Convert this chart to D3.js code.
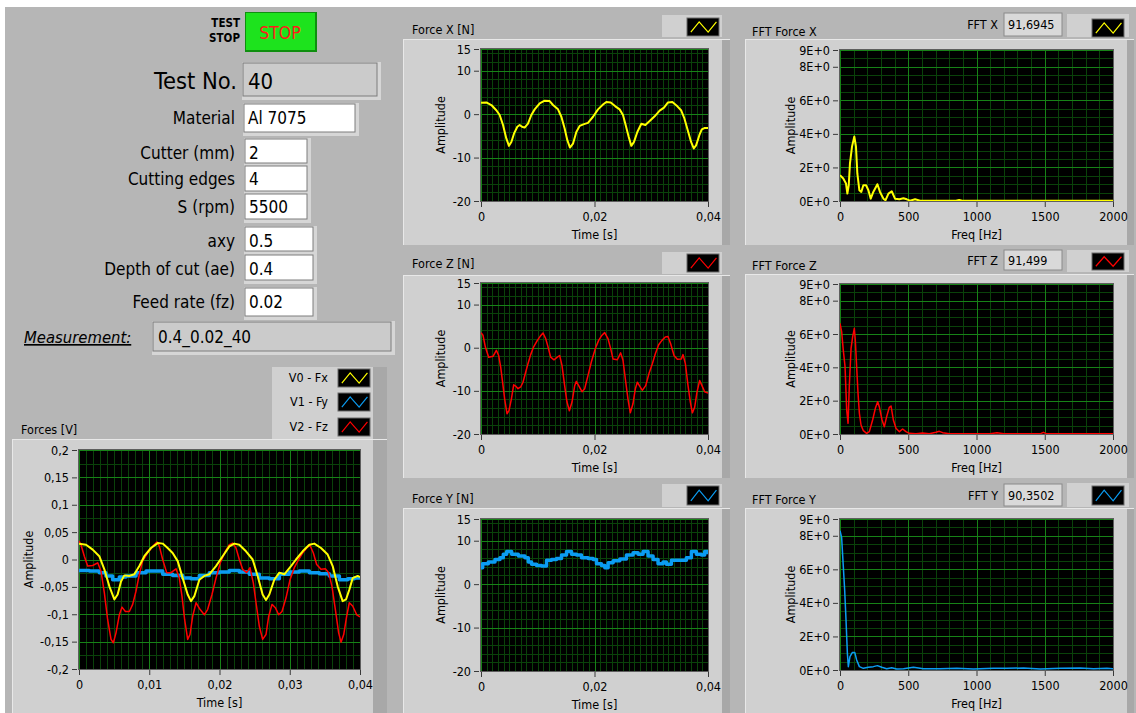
<!DOCTYPE html>
<html>
<head>
<meta charset="utf-8">
<script src="https://cdn.jsdelivr.net/npm/d3@7"></script>
<style>
  body { margin: 0; background: #fff; }
  svg { display: block; font-family: "DejaVu Sans Condensed", "DejaVu Sans", sans-serif; font-stretch: condensed; }
</style>
</head>
<body>
<svg id="panel" width="1136" height="713"></svg>
<script>
// ---------- Measured signals (time in s, force in N) ----------
const forceX = [[0,2.6],[0.00094,2.7],[0.00182,2.1],[0.0027,0.9],[0.00329,-0.2],[0.00388,-2.5],[0.00446,-5.6],[0.00493,-7.3],[0.00535,-6.4],[0.00581,-4.5],[0.0064,-2.9],[0.00681,-2.5],[0.00722,-2.9],[0.00769,-3.1],[0.00828,-2.2],[0.00887,-0.2],[0.00946,1.1],[0.01034,2.5],[0.01122,3.1],[0.0121,3.0],[0.01269,2.1],[0.01357,1.1],[0.01416,-0.6],[0.01474,-3.3],[0.01521,-6.0],[0.01568,-7.7],[0.01621,-6.8],[0.0168,-4.1],[0.01739,-2.7],[0.01815,-2.3],[0.01885,-2.0],[0.01974,-0.6],[0.02062,1.1],[0.0215,2.2],[0.02208,2.8],[0.02285,2.7],[0.02367,1.8],[0.02443,1.1],[0.02502,-0.2],[0.02549,-2.5],[0.02602,-5.2],[0.02649,-7.3],[0.02696,-6.4],[0.02755,-4.1],[0.02825,-2.2],[0.02896,-2.5],[0.02972,-1.6],[0.0306,-0.5],[0.03148,0.8],[0.03225,1.5],[0.03295,2.7],[0.03372,2.8],[0.0346,1.8],[0.03525,0.9],[0.03584,-1.0],[0.03643,-3.7],[0.03702,-6.4],[0.03749,-7.9],[0.0379,-7.2],[0.03849,-4.8],[0.0389,-3.5],[0.03937,-3.2],[0.04,-3.2]];

const forceZ = [[0,3.5],[0.00035,2.9],[0.00076,0.2],[0.00135,-2.2],[0.00212,-2.0],[0.0027,-0.6],[0.00311,-1.8],[0.00347,-4.5],[0.00388,-8.8],[0.00417,-11.9],[0.00458,-15.3],[0.00493,-14.6],[0.00535,-11.9],[0.00576,-8.6],[0.00611,-8.9],[0.00652,-9.5],[0.00699,-9.1],[0.0074,-8.0],[0.00787,-5.7],[0.00828,-3.7],[0.00875,-1.6],[0.00928,0.2],[0.00993,1.7],[0.01046,2.7],[0.01093,3.4],[0.0114,2.1],[0.01181,0.2],[0.01228,-2.2],[0.01286,-2.8],[0.01345,-2.2],[0.01386,-1.8],[0.01427,-4.1],[0.01474,-8.8],[0.01515,-12.6],[0.01557,-14.6],[0.01604,-12.6],[0.01651,-8.8],[0.0168,-7.8],[0.01721,-8.8],[0.0178,-10.2],[0.01827,-9.5],[0.01886,-6.4],[0.01944,-3.3],[0.02015,-0.2],[0.02073,1.7],[0.02132,2.9],[0.02179,3.5],[0.02238,2.1],[0.02285,-0.2],[0.02326,-2.6],[0.02402,-2.8],[0.02461,-1.2],[0.02502,-2.9],[0.02543,-7.2],[0.0259,-11.9],[0.02631,-15.1],[0.02678,-13.0],[0.0272,-9.5],[0.02755,-8.0],[0.02796,-8.9],[0.02843,-9.9],[0.02902,-8.8],[0.0296,-6.0],[0.03019,-3.7],[0.03072,-1.4],[0.03131,0.7],[0.03189,1.7],[0.03248,2.5],[0.03295,2.6],[0.03342,0.9],[0.03401,-1.8],[0.0346,-2.7],[0.0353,-2.6],[0.0356,-1.6],[0.03601,-3.7],[0.03648,-8.8],[0.03689,-12.6],[0.03724,-15.1],[0.03765,-13.8],[0.03806,-10.3],[0.03853,-7.6],[0.03894,-8.8],[0.03941,-10.2],[0.04,-10.5]];

const forceY = [[0,3.8],[0.00029,4.7],[0.00129,5.1],[0.00246,5.7],[0.00334,6.1],[0.00393,6.9],[0.00452,7.5],[0.0054,6.9],[0.00657,6.5],[0.00774,6.1],[0.00833,5.1],[0.00891,4.6],[0.00979,4.3],[0.01067,4.2],[0.01155,5.5],[0.01243,5.7],[0.01331,5.9],[0.01419,6.7],[0.01507,7.5],[0.01595,6.9],[0.01683,6.7],[0.01771,6.1],[0.01889,5.9],[0.01977,5.7],[0.02035,4.7],[0.02123,4.3],[0.02182,3.8],[0.0224,4.9],[0.02328,5.4],[0.02446,5.8],[0.02563,6.7],[0.0268,7.2],[0.02768,6.9],[0.02856,7.5],[0.02944,6.5],[0.03032,5.7],[0.0312,4.7],[0.03208,5.1],[0.03267,4.6],[0.03355,5.5],[0.03501,5.5],[0.03619,6.1],[0.03707,7.5],[0.03795,6.9],[0.03883,6.7],[0.03941,7.5],[0.04,6.9]];

// ---------- Raw channel voltages (time in s, V) ----------
const voltsV0 = [[0,0.0287],[0.001,0.027],[0.00195,0.018],[0.00289,0.006],[0.00361,-0.018],[0.00432,-0.049],[0.00503,-0.073],[0.0055,-0.064],[0.00598,-0.04],[0.00645,-0.029],[0.00717,-0.03],[0.00788,-0.027],[0.00859,-0.012],[0.0093,0.006],[0.01025,0.021],[0.0112,0.03],[0.01191,0.029],[0.01262,0.021],[0.01333,0.012],[0.01405,-0.003],[0.01476,-0.034],[0.01547,-0.064],[0.01594,-0.076],[0.01642,-0.067],[0.01713,-0.037],[0.01784,-0.03],[0.01855,-0.027],[0.0195,-0.012],[0.02045,0.006],[0.0214,0.024],[0.02211,0.029],[0.02282,0.027],[0.02377,0.015],[0.02472,0],[0.02543,-0.03],[0.02614,-0.064],[0.02662,-0.074],[0.02709,-0.064],[0.0278,-0.037],[0.02852,-0.024],[0.02923,-0.027],[0.03018,-0.012],[0.03089,0],[0.03184,0.015],[0.03279,0.027],[0.0335,0.029],[0.03445,0.021],[0.0354,0.009],[0.03611,-0.012],[0.03682,-0.049],[0.03753,-0.076],[0.03801,-0.073],[0.03848,-0.055],[0.03896,-0.034],[0.03967,-0.03],[0.04,-0.032]];

const voltsV1 = [[0,-0.02],[0.00147,-0.021],[0.00289,-0.024],[0.00384,-0.03],[0.00479,-0.037],[0.00574,-0.032],[0.00669,-0.03],[0.00811,-0.024],[0.00954,-0.021],[0.01096,-0.021],[0.01191,-0.027],[0.01333,-0.029],[0.01476,-0.034],[0.01594,-0.035],[0.01713,-0.029],[0.01855,-0.024],[0.01998,-0.023],[0.0214,-0.02],[0.02282,-0.023],[0.02425,-0.027],[0.02567,-0.034],[0.02709,-0.035],[0.02852,-0.027],[0.02994,-0.023],[0.03136,-0.021],[0.03279,-0.024],[0.03421,-0.026],[0.03563,-0.03],[0.03706,-0.037],[0.03825,-0.035],[0.03919,-0.034],[0.04,-0.035]];

const voltsV2 = [[0,0.034],[0.00028,0.027],[0.00076,0.006],[0.00123,-0.012],[0.00195,-0.011],[0.00266,-0.006],[0.00313,-0.021],[0.00361,-0.061],[0.00408,-0.11],[0.00456,-0.146],[0.00489,-0.152],[0.00527,-0.134],[0.00574,-0.101],[0.00612,-0.087],[0.0066,-0.095],[0.00717,-0.095],[0.00764,-0.082],[0.00811,-0.058],[0.00859,-0.027],[0.00906,-0.003],[0.00977,0.012],[0.01049,0.024],[0.0111,0.032],[0.01144,0.024],[0.01191,0],[0.01248,-0.024],[0.0131,-0.024],[0.01381,-0.017],[0.01428,-0.034],[0.01466,-0.067],[0.01504,-0.11],[0.01547,-0.146],[0.0158,-0.137],[0.01618,-0.104],[0.01666,-0.079],[0.01722,-0.091],[0.01784,-0.101],[0.01832,-0.091],[0.01893,-0.064],[0.0195,-0.034],[0.02012,-0.006],[0.02083,0.015],[0.0214,0.027],[0.02187,0.03],[0.02235,0.021],[0.02282,0],[0.0233,-0.018],[0.02387,-0.024],[0.02434,-0.015],[0.02482,-0.043],[0.0252,-0.079],[0.02567,-0.122],[0.02614,-0.146],[0.02662,-0.137],[0.027,-0.104],[0.02747,-0.082],[0.02795,-0.088],[0.02842,-0.101],[0.0289,-0.095],[0.02947,-0.07],[0.03004,-0.037],[0.03065,-0.015],[0.03127,0],[0.03184,0.012],[0.0324,0.021],[0.03288,0.026],[0.03336,0.012],[0.03383,-0.009],[0.03445,-0.018],[0.03507,-0.017],[0.03554,-0.024],[0.03601,-0.049],[0.03649,-0.091],[0.03696,-0.134],[0.0373,-0.151],[0.03768,-0.137],[0.0381,-0.104],[0.03848,-0.079],[0.03896,-0.085],[0.03953,-0.101],[0.04,-0.105]];

// ---------- Amplitude spectra (Hz, amplitude) ----------
const fftX = [[0,1.54],[24,1.34],[44,1.04],[54,0.44],[64,0.94],[73,2.24],[88,3.24],[105,3.84],[117,3.24],[127,1.64],[142,0.64],[156,0.54],[171,0.94],[191,0.94],[208,0.64],[225,0.14],[244,0.54],[274,1.0],[293,0.54],[318,0.14],[333,0.04],[355,0.44],[379,0.58],[403,0.14],[435,0.1],[465,0.16],[489,0.1],[513,0.02],[550,0.1],[587,0.02],[650,0.02],[850,0.02],[873,0.06],[895,0.02],[1200,0.02],[2000,0.02]];

const fftZ = [[0,6.64],[12,6.14],[24,5.04],[37,4.04],[49,1.44],[59,0.64],[68,2.84],[81,5.14],[93,5.84],[105,6.34],[112,5.64],[122,4.04],[132,2.44],[142,1.24],[154,0.54],[171,0.2],[195,0.04],[215,0.14],[239,0.84],[259,1.54],[276,1.94],[288,1.64],[308,0.84],[325,0.44],[342,1.04],[361,1.6],[374,1.68],[391,0.84],[410,0.34],[435,0.14],[459,0.3],[483,0.14],[508,0.04],[557,0.02],[605,0.06],[654,0.02],[703,0.1],[728,0.16],[752,0.08],[801,0.02],[1100,0.02],[1150,0.08],[1200,0.02],[1470,0.02],[1490,0.1],[1510,0.02],[2000,0.02]];

const fftY = [[0,8.3],[12,7.9],[24,6.2],[34,4.8],[44,3.0],[54,1.0],[61,0.2],[73,0.8],[90,1.04],[108,1.04],[122,0.6],[142,0.2],[171,0.1],[208,0.16],[244,0.2],[274,0.26],[306,0.16],[342,0.08],[379,0.14],[416,0.06],[465,0.08],[538,0.16],[611,0.08],[733,0.08],[856,0.1],[978,0.06],[1125,0.1],[1222,0.1],[1345,0.12],[1467,0.06],[1614,0.1],[1760,0.12],[1858,0.08],[1956,0.1],[2000,0.08]];

// ---------- Ticks ----------
const forceTimeTicks = [0, 0.02, 0.04];
const forceAmpTicks = [-20, -10, 0, 10, 15];
const voltTimeTicks = [0, 0.01, 0.02, 0.03, 0.04];
const voltAmpTicks = [-0.2, -0.15, -0.1, -0.05, 0, 0.05, 0.1, 0.15, 0.2];
const freqTicks = [0, 500, 1000, 1500, 2000];
const fftAmpTicks = [0, 2, 4, 6, 8, 9];

// ---------- Front panel parameters ----------
const paramLabels = ["Material", "Cutter (mm)", "Cutting edges", "S (rpm)", "axy", "Depth of cut (ae)", "Feed rate (fz)"];
const paramValues = ["Al 7075", "2", "4", "5500", "0.5", "0.4", "0.02"];
const testNo = "40";
const measurementName = "0.4_0.02_40";
const fftPeakLabels = ["FFT X", "FFT Z", "FFT Y"];
const fftPeakValues = ["91,6945", "91,499", "90,3502"];
const channelNames = ["V0 - Fx", "V1 - Fy", "V2 - Fz"];

const YELLOW = "#ffff00", BLUE = "#0b9cf2", RED = "#ff0000";
const BG = "#b6b6b6", FRAME = "#d0d0d0", STRIP = "#a8a8a8";
const GRID_MINOR = "#0a420a", GRID_MAJOR = "#178217";

const comma = d3.formatLocale({decimal: ",", thousands: ".", grouping: [3], currency: ["", ""], minus: "-"}).format("~g");
const expFmt = d => d + "E+0";
const intFmt = d3.format("d");

const svg = d3.select("#panel");
svg.append("rect").attr("width", 1136).attr("height", 713).attr("fill", "#fff");
svg.append("rect").attr("x", 5).attr("y", 7).attr("width", 1131).attr("height", 706).attr("fill", BG);

function bevelBox(g, x, y, w, h, fill) {
  g.append("rect").attr("x", x - 1).attr("y", y - 1).attr("width", w + 5).attr("height", h + 5).attr("fill", "#d6d6d6");
  g.append("rect").attr("x", x).attr("y", y).attr("width", w).attr("height", h).attr("fill", fill)
    .attr("stroke", "#7d7d7d").attr("stroke-width", 1);
}

function swatch(g, x, y, w, h, color) {
  g.append("rect").attr("x", x).attr("y", y).attr("width", w).attr("height", h).attr("fill", "#000")
    .attr("stroke", "#6a6a6a");
  const pts = [[0.12, 0.78], [0.38, 0.22], [0.66, 0.78], [0.92, 0.22]].map(p => [x + p[0] * w, y + p[1] * h]);
  g.append("path").attr("d", d3.line()(pts)).attr("fill", "none").attr("stroke", color).attr("stroke-width", 1.2);
}

function frame(g, x, y, w, h, strip) {
  g.append("rect").attr("x", x).attr("y", y).attr("width", w).attr("height", h).attr("fill", FRAME);
  g.append("rect").attr("x", x + w - strip).attr("y", y).attr("width", strip).attr("height", h).attr("fill", STRIP);
  g.append("line").attr("x1", x).attr("x2", x + w).attr("y1", y + 0.5).attr("y2", y + 0.5).attr("stroke", "#e8e8e8");
  g.append("line").attr("x1", x + 0.5).attr("x2", x + 0.5).attr("y1", y).attr("y2", y + h).attr("stroke", "#e8e8e8");
}

let clipId = 0;
function graph(o) {
  const g = svg.append("g");
  const [x0, y0, x1, y1] = o.plot;
  const x = d3.scaleLinear().domain(o.xDomain).range([x0, x1]);
  const y = d3.scaleLinear().domain(o.yDomain).range([y1, y0]);

  g.append("rect").attr("x", x0).attr("y", y0).attr("width", x1 - x0).attr("height", y1 - y0).attr("fill", "#000");

  const grid = g.append("g").attr("shape-rendering", "crispEdges");
  o.xMinor.forEach(v => grid.append("line").attr("x1", Math.round(x(v)) + 0.5).attr("x2", Math.round(x(v)) + 0.5)
    .attr("y1", y0).attr("y2", y1).attr("stroke", GRID_MINOR));
  o.yMinor.forEach(v => grid.append("line").attr("y1", Math.round(y(v)) + 0.5).attr("y2", Math.round(y(v)) + 0.5)
    .attr("x1", x0).attr("x2", x1).attr("stroke", GRID_MINOR));
  o.xTicks.forEach(v => grid.append("line").attr("x1", Math.round(x(v)) + 0.5).attr("x2", Math.round(x(v)) + 0.5)
    .attr("y1", y0).attr("y2", y1).attr("stroke", GRID_MAJOR));
  o.yTicks.forEach(v => grid.append("line").attr("y1", Math.round(y(v)) + 0.5).attr("y2", Math.round(y(v)) + 0.5)
    .attr("x1", x0).attr("x2", x1).attr("stroke", GRID_MAJOR));

  const cid = "clip" + (clipId++);
  g.append("clipPath").attr("id", cid).append("rect")
    .attr("x", x0).attr("y", y0 - 1).attr("width", x1 - x0).attr("height", y1 - y0 + 2);
  const plot = g.append("g").attr("clip-path", `url(#${cid})`);
  o.series.forEach(s => {
    const line = d3.line().x(d => x(d[0])).y(d => y(d[1])).curve(s.curve || d3.curveLinear);
    plot.append("path").attr("d", line(s.data)).attr("fill", "none").attr("stroke", s.color)
      .attr("stroke-width", s.width).attr("stroke-linejoin", "round");
  });

  g.append("rect").attr("x", x0 - 0.5).attr("y", y0 - 0.5).attr("width", x1 - x0 + 1).attr("height", y1 - y0 + 1)
    .attr("fill", "none").attr("stroke", "#5e5e5e");

  const ya = g.append("g").attr("transform", `translate(${x0 - 2},0)`)
    .call(d3.axisLeft(y).tickValues(o.yTicks).tickFormat(o.yFmt).tickSize(5).tickPadding(3));
  const xa = g.append("g").attr("transform", `translate(0,${y1 + 1})`)
    .call(d3.axisBottom(x).tickValues(o.xTicks).tickFormat(o.xFmt).tickSize(5).tickPadding(5));
  [ya, xa].forEach(a => {
    a.select(".domain").remove();
    a.selectAll(".tick line").attr("stroke", "#3a3a3a");
    a.selectAll(".tick text").attr("fill", "#000").style("font-size", "12.5px")
      .style("font-family", '"DejaVu Sans Condensed", "DejaVu Sans", sans-serif');
  });

  g.append("text").attr("x", (x0 + x1) / 2).attr("y", y1 + 38).attr("text-anchor", "middle")
    .attr("font-size", 12.5).text(o.xLabel);
  const cy = (y0 + y1) / 2, cx = x0 - o.ampOffset;
  g.append("text").attr("transform", `translate(${cx + 4.5},${cy}) rotate(-90)`).attr("text-anchor", "middle")
    .attr("font-size", 12.5).text("Amplitude");
  return g;
}

// ---------- Left control column ----------
const ctl = svg.append("g");
ctl.append("text").attr("x", 240).attr("y", 27).attr("text-anchor", "end").attr("font-size", 11.5)
  .attr("font-weight", "bold").text("TEST");
ctl.append("text").attr("x", 240).attr("y", 42).attr("text-anchor", "end").attr("font-size", 11.5)
  .attr("font-weight", "bold").text("STOP");
ctl.append("rect").attr("x", 245).attr("y", 12).attr("width", 72).attr("height", 40).attr("fill", "#0f8f0f");
ctl.append("rect").attr("x", 246).attr("y", 13).attr("width", 69).attr("height", 37).attr("fill", "#1de31d");
ctl.append("text").attr("x", 280).attr("y", 39).attr("text-anchor", "middle").attr("font-size", 17.5)
  .attr("fill", "#ff1a1a").text("STOP");

ctl.append("text").attr("x", 237).attr("y", 89).attr("text-anchor", "end").attr("font-size", 23.5).text("Test No.");
bevelBox(ctl, 243, 63, 134, 33, "#cbcbcb");
ctl.append("text").attr("x", 248).attr("y", 89).attr("font-size", 22).text(testNo);

const boxes = [
  [244, 104, 111, 28, 124],
  [245, 139, 62, 24, 159],
  [245, 166, 62, 25, 185],
  [245, 194, 62, 25, 213],
  [245, 227, 68, 24, 247],
  [245, 255, 68, 25, 275],
  [245, 288, 68, 28, 308]
];
paramLabels.forEach((lab, i) => {
  const b = boxes[i];
  ctl.append("text").attr("x", 235).attr("y", b[4]).attr("text-anchor", "end").attr("font-size", 17).text(lab);
  bevelBox(ctl, b[0], b[1], b[2], b[3], "#fff");
  ctl.append("text").attr("x", b[0] + 4).attr("y", b[4]).attr("font-size", 17).text(paramValues[i]);
});

ctl.append("text").attr("x", 24).attr("y", 343).attr("font-size", 16.5).attr("font-style", "italic")
  .attr("text-decoration", "underline").text("Measurement:");
bevelBox(ctl, 153, 322, 238, 29, "#cbcbcb");
ctl.append("text").attr("x", 158).attr("y", 343).attr("font-size", 17).text(measurementName);

// ---------- Raw voltage graph ----------
const fv = svg.append("g");
frame(fv, 12, 439, 375, 274, 14);
fv.append("text").attr("x", 21).attr("y", 434).attr("font-size", 12.5).text("Forces [V]");
fv.append("rect").attr("x", 272).attr("y", 367).attr("width", 115).attr("height", 72).attr("fill", FRAME);
fv.append("rect").attr("x", 373).attr("y", 367).attr("width", 14).attr("height", 72).attr("fill", STRIP);
[[369, YELLOW], [393, BLUE], [418, RED]].forEach((r, i) => {
  fv.append("text").attr("x", 328).attr("y", r[0] + 13).attr("text-anchor", "end").attr("font-size", 12.5)
    .text(channelNames[i]);
  swatch(fv, 338, r[0], 32, 18, r[1]);
});
graph({
  plot: [79, 450, 360, 669], xDomain: [0, 0.04], yDomain: [-0.2, 0.2],
  xTicks: voltTimeTicks, yTicks: voltAmpTicks, xFmt: comma, yFmt: comma,
  xMinor: d3.range(0.001, 0.04, 0.001), yMinor: d3.range(-0.175, 0.2, 0.05),
  xLabel: "Time [s]", ampOffset: 51,
  series: [
    {data: voltsV1, color: BLUE, width: 3.5, curve: d3.curveStepAfter},
    {data: voltsV2, color: RED, width: 1.5},
    {data: voltsV0, color: YELLOW, width: 2}
  ]
});

// ---------- Force graphs ----------
const forceGraphs = [
  {title: "Force X [N]", frame: [403, 39, 327, 206], titleY: 34, btn: [662, 15, 60, 22], sw: [687, 18, 32, 18],
   plot: [481, 49, 708, 201], data: forceX, color: YELLOW, width: 2},
  {title: "Force Z [N]", frame: [403, 275, 327, 203], titleY: 268, btn: [662, 252, 60, 22], sw: [687, 254, 32, 18],
   plot: [481, 283, 708, 434], data: forceZ, color: RED, width: 1.5},
  {title: "Force Y [N]", frame: [403, 508, 327, 205], titleY: 503, btn: [662, 484, 60, 23], sw: [687, 486, 32, 19],
   plot: [481, 519, 708, 671], data: forceY, color: BLUE, width: 3.5, curve: d3.curveStepAfter}
];
forceGraphs.forEach(c => {
  const g = svg.append("g");
  frame(g, ...c.frame, 8);
  g.append("text").attr("x", 412).attr("y", c.titleY).attr("font-size", 12.5).text(c.title);
  g.append("rect").attr("x", c.btn[0]).attr("y", c.btn[1]).attr("width", c.btn[2]).attr("height", c.btn[3]).attr("fill", FRAME);
  swatch(g, ...c.sw, c.color);
  graph({
    plot: c.plot, xDomain: [0, 0.04], yDomain: [-20, 15],
    xTicks: forceTimeTicks, yTicks: forceAmpTicks, xFmt: comma, yFmt: comma,
    xMinor: d3.range(0.001, 0.04, 0.001), yMinor: d3.range(-18, 15, 2),
    xLabel: "Time [s]", ampOffset: 41,
    series: [{data: c.data, color: c.color, width: c.width, curve: c.curve}]
  });
});

// ---------- Spectrum graphs ----------
const fftGraphs = [
  {title: "FFT Force X", frame: [745, 39, 389, 206], titleY: 36, btn: [1067, 14, 62, 23], sw: [1092, 19, 32, 18],
   box: [1004, 13, 58, 23], plot: [840, 50, 1113, 201], data: fftX, color: YELLOW, width: 2},
  {title: "FFT Force Z", frame: [745, 274, 389, 204], titleY: 270, btn: [1067, 250, 62, 22], sw: [1092, 253, 32, 17],
   box: [1004, 250, 58, 20], plot: [840, 284, 1113, 434], data: fftZ, color: RED, width: 1.5},
  {title: "FFT Force Y", frame: [745, 508, 389, 205], titleY: 504, btn: [1067, 483, 62, 24], sw: [1092, 486, 32, 19],
   box: [1004, 484, 58, 22], plot: [840, 519, 1113, 670], data: fftY, color: BLUE, width: 1.5}
];
fftGraphs.forEach((c, i) => {
  const g = svg.append("g");
  frame(g, ...c.frame, 7);
  g.append("text").attr("x", 752).attr("y", c.titleY).attr("font-size", 12.5).text(c.title);
  g.append("text").attr("x", 998).attr("y", c.box[1] + c.box[3] / 2 + 4.5).attr("text-anchor", "end")
    .attr("font-size", 12.5).text(fftPeakLabels[i]);
  g.append("rect").attr("x", c.box[0]).attr("y", c.box[1]).attr("width", c.box[2]).attr("height", c.box[3])
    .attr("fill", "#d9d9d9").attr("stroke", "#8a8a8a");
  g.append("text").attr("x", c.box[0] + 4).attr("y", c.box[1] + c.box[3] / 2 + 4.5).attr("font-size", 12.5)
    .text(fftPeakValues[i]);
  g.append("rect").attr("x", c.btn[0]).attr("y", c.btn[1]).attr("width", c.btn[2]).attr("height", c.btn[3]).attr("fill", FRAME);
  swatch(g, ...c.sw, c.color);
  graph({
    plot: c.plot, xDomain: [0, 2000], yDomain: [0, 9],
    xTicks: freqTicks, yTicks: fftAmpTicks, xFmt: intFmt, yFmt: expFmt,
    xMinor: d3.range(100, 2000, 100), yMinor: d3.range(0.5, 9, 0.5),
    xLabel: "Freq [Hz]", ampOffset: 50,
    series: [{data: c.data, color: c.color, width: c.width}]
  });
});
</script>
</body>
</html>
